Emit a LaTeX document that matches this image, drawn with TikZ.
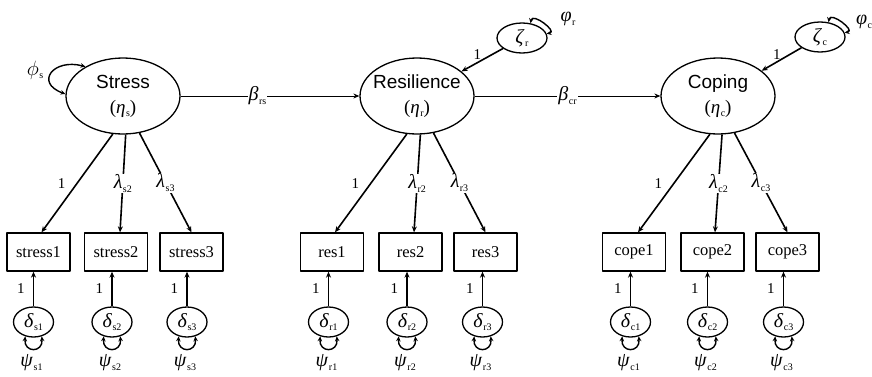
\documentclass[tikz,border=0pt]{standalone}
\usepackage{fontspec}
\setmainfont{Liberation Serif}
\setsansfont{Liberation Sans}
\usetikzlibrary{shapes.geometric,arrows.meta}
% italic Greek symbol with a small upright subscript
\newcommand\gsub[2]{\textit{#1}\kern0.5pt\raisebox{-0.18em}{\fontsize{10}{10}\selectfont#2}}
\begin{document}
\begin{tikzpicture}[x=1pt,y=1pt,line join=round,
  latent/.style={ellipse, draw, line width=1.3pt, minimum width=114pt,
    minimum height=76pt, inner sep=0pt, align=center,
    font=\sffamily\fontsize{19}{22}\selectfont},
  obs/.style={rectangle, draw, line width=1.3pt, minimum width=63pt,
    minimum height=38pt, inner sep=0pt, font=\fontsize{16.5}{18}\selectfont},
  err/.style={ellipse, draw, line width=1.3pt, minimum width=40pt,
    minimum height=30pt, inner sep=0pt, font=\fontsize{20}{20}\selectfont},
  dist/.style={ellipse, draw, line width=1.3pt, minimum width=50pt,
    minimum height=30pt, inner sep=0pt, font=\fontsize{20}{20}\selectfont},
  lab/.style={inner sep=1pt, font=\fontsize{20}{20}\selectfont},
  one/.style={inner sep=1pt, font=\fontsize{15}{16}\selectfont},
  load/.style={line width=1.6pt, -{Stealth[length=6pt,width=5pt]}},
  reg/.style={line width=1pt, -{Stealth[length=6pt,width=5pt]}},
  cov/.style={line width=1.4pt,
    {Stealth[length=5pt,width=4.5pt]}-{Stealth[length=5pt,width=4.5pt]}}]
\useasboundingbox (0,0) rectangle (872,376);

% latent factors
\node[latent] (S) at (123,280) {\makebox[40pt]{Stress}\\[3pt]\makebox[40pt]{\rmfamily(\gsub{η}{s})}};
\node[latent] (R) at (417,280) {\makebox[40pt]{Resilience}\\[3pt]\makebox[40pt]{\rmfamily(\gsub{η}{r})}};
\node[latent] (C) at (718,280) {\makebox[40pt]{Coping}\\[3pt]\makebox[40pt]{\rmfamily(\gsub{η}{c})}};

% disturbances
\node[dist] (zr) at (522,338) {\gsub{ζ}{r}};
\node[dist] (zc) at (820,339) {\gsub{ζ}{c}};

% indicators
\foreach \n/\x/\t in {s1/38.5/stress1, s2/116/stress2, s3/191.5/stress3,
                      r1/332/res1, r2/410.5/res2, r3/485.5/res3,
                      c1/634/cope1, c2/712.5/cope2, c3/787.5/cope3}
  \node[obs] (\n) at (\x,124) {\t};

% measurement errors
\foreach \n/\x/\s in {s1/33.5/s1, s2/112/s2, s3/187/s3,
                      r1/328.5/r1, r2/407/r2, r3/482.5/r3,
                      c1/630.5/c1, c2/707.5/c2, c3/783.5/c3} {
  \node[err] (d\n) at (\x,54) {\gsub{δ}{\s}};
  \draw[load] (d\n) -- node[one, left=7pt] {1} (d\n |- \n.south);
  \draw[cov] (d\n.240) to[out=-95,in=-85,looseness=2.6] (d\n.300);
  \node[lab] (p\n) at (\x-2,13) {\gsub{ψ}{\s}};
}

% factor loadings
\draw[load] (S.255) -- node[one, left=10pt] {1} ([xshift=3pt]s1.north);
\draw[load] (S.274) -- node[lab, fill=white] {\gsub{λ}{s2}} ([xshift=4pt]s2.north);
\draw[load] (S.294) -- node[lab, fill=white] {\gsub{λ}{s3}} (s3.north);
\draw[load] (R.255) -- node[one, left=10pt] {1} ([xshift=3pt]r1.north);
\draw[load] (R.275) -- node[lab, fill=white] {\gsub{λ}{r2}} ([xshift=3.5pt]r2.north);
\draw[load] (R.294) -- node[lab, fill=white] {\gsub{λ}{r3}} (r3.north);
\draw[load] (C.258) -- node[one, left=10pt] {1} ([xshift=4pt]c1.north);
\draw[load] (C.276) -- node[lab, fill=white] {\gsub{λ}{c2}} ([xshift=2.5pt]c2.north);
\draw[load] (C.294) -- node[lab, fill=white] {\gsub{λ}{c3}} (c3.north);

% structural paths
\draw[reg] (S) -- node[lab, fill=white, pos=0.43] {\gsub{β}{rs}} (R);
\draw[reg] (R) -- node[lab, fill=white] {\gsub{β}{cr}} (C);
\draw[load] (zr) -- node[one, pos=0.62, above=1pt] {1} (R);
\draw[load] (zc) -- node[one, pos=0.62, above=1pt] {1} (C);

% variances
\draw[cov] (S.142) to[out=165,in=160,looseness=2.5] (S.178);
\node[lab] (phs) at (35,306) {$\phi$\kern0.5pt\raisebox{-0.18em}{\fontsize{10}{10}\selectfont s}};
\draw[cov] (zr.60) to[out=80,in=10,looseness=1.5] (zr.10);
\node[lab] (phr) at (568,357) {\gsub{φ}{r}};
\draw[cov] (zc.60) to[out=80,in=10,looseness=1.5] (zc.10);
\node[lab] (phc) at (864,354) {\gsub{φ}{c}};
\end{tikzpicture}
\end{document}
